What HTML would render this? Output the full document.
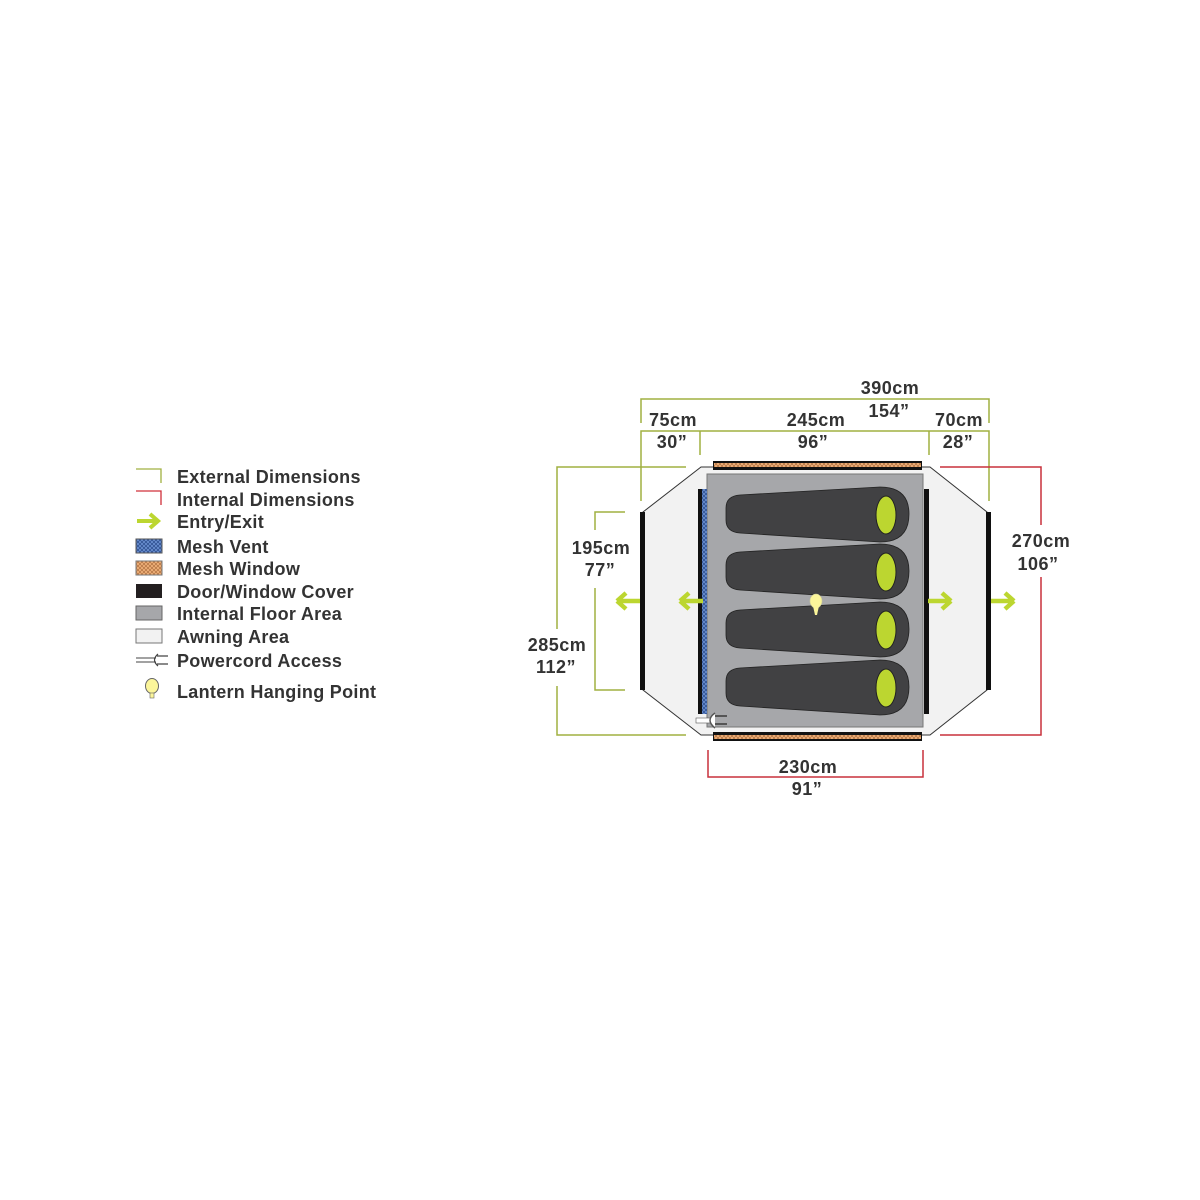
<!DOCTYPE html>
<html><head><meta charset="utf-8"><style>
html,body{margin:0;padding:0;background:#fff}
svg{display:block}
text{font-family:"Liberation Sans",sans-serif;font-weight:bold;fill:#333;font-size:18px;letter-spacing:0.5px}
.lg{font-size:18px;letter-spacing:0.3px}
</style></head><body>
<svg width="1200" height="1200" viewBox="0 0 1200 1200" xmlns="http://www.w3.org/2000/svg">
<defs>
<pattern id="mo" width="4" height="4" patternUnits="userSpaceOnUse"><rect width="4" height="4" fill="#f0b27a"/><path d="M0 0L4 4M4 0L0 4" stroke="#b07040" stroke-width="0.7"/></pattern>
<pattern id="mb" width="4" height="4" patternUnits="userSpaceOnUse"><rect width="4" height="4" fill="#6a8fd0"/><path d="M0 0L4 4M4 0L0 4" stroke="#2a4a8a" stroke-width="0.7"/></pattern>
<g id="arr"><path d="M-1 0 L-10 -8 M-1 0 L-10 8 M-2 0 L-24 0" stroke="#bcd630" stroke-width="4.5" fill="none" stroke-linecap="butt"/></g>
<g id="bag"><path d="M740 495 L880 487 Q909 487 909 514 Q909 542 880 542 L740 533 Q726 532 726 520 L726 508 Q726 496 740 495 Z" fill="#414143" stroke="#222" stroke-width="0.8"/><ellipse cx="886" cy="515" rx="10" ry="19" fill="#bcd630" stroke="#222" stroke-width="1"/></g>
</defs>
<!-- legend -->
<g fill="none" stroke-width="1.3">
<path d="M136 469H161V483" stroke="#a0b040"/>
<path d="M136 491H161V505" stroke="#d0303a"/>
</g>
<path d="M137 521H156 M150 514L158 521L150 528" stroke="#bcd630" stroke-width="4" fill="none"/>
<rect x="136" y="539" width="26" height="14" fill="url(#mb)" stroke="#555"/>
<rect x="136" y="561" width="26" height="14" fill="url(#mo)" stroke="#777"/>
<rect x="136" y="584" width="26" height="14" fill="#231f20"/>
<rect x="136" y="606" width="26" height="14" fill="#a6a7aa" stroke="#666"/>
<rect x="136" y="629" width="26" height="14" fill="#f2f2f2" stroke="#777"/>
<path d="M136 658H156 M136 662H156" stroke="#444" stroke-width="1" fill="none"/>
<path d="M158 654 Q151 660 158 666 M157 656H168 M157 664H168" stroke="#444" stroke-width="1.2" fill="none"/>
<ellipse cx="152" cy="686" rx="6.5" ry="7.5" fill="#fbf59a" stroke="#666"/>
<rect x="150" y="693" width="4" height="5" fill="#fbf59a" stroke="#666" stroke-width="0.6"/>
<text class="lg" x="177" y="483">External Dimensions</text>
<text class="lg" x="177" y="506">Internal Dimensions</text>
<text class="lg" x="177" y="528">Entry/Exit</text>
<text class="lg" x="177" y="553">Mesh Vent</text>
<text class="lg" x="177" y="575">Mesh Window</text>
<text class="lg" x="177" y="598">Door/Window Cover</text>
<text class="lg" x="177" y="620">Internal Floor Area</text>
<text class="lg" x="177" y="643">Awning Area</text>
<text class="lg" x="177" y="667">Powercord Access</text>
<text class="lg" x="177" y="698">Lantern Hanging Point</text>

<!-- tent outline -->
<path d="M701 467 L930 467 L987 512 L987 690 L930 735 L701 735 L643 690 L643 512 Z" fill="#f2f2f2" stroke="#333" stroke-width="1"/>
<rect x="713" y="461" width="209" height="9" fill="#111"/>
<rect x="714" y="463" width="207" height="4" fill="url(#mo)"/>
<rect x="713" y="732" width="209" height="9" fill="#111"/>
<rect x="714" y="735" width="207" height="4" fill="url(#mo)"/>
<rect x="707" y="474" width="216" height="253" fill="#a6a7aa" stroke="#777" stroke-width="1"/>
<rect x="698" y="489" width="4" height="225" fill="#111"/>
<rect x="702" y="489" width="5" height="225" fill="url(#mb)"/>
<rect x="924" y="489" width="5" height="225" fill="#111"/>
<rect x="640" y="512" width="5" height="178" fill="#111"/>
<rect x="986" y="512" width="5" height="178" fill="#111"/>
<use href="#bag"/>
<use href="#bag" transform="translate(0,57)"/>
<use href="#bag" transform="translate(0,115)"/>
<use href="#bag" transform="translate(0,173)"/>
<ellipse cx="816" cy="601" rx="6" ry="7" fill="#fbf59a" stroke="#cc9" stroke-width="0.6"/>
<path d="M813 606 L819 606 L817 615 L815 615 Z" fill="#fbf59a"/>
<!-- powercord -->
<rect x="696" y="718" width="17" height="5" fill="#fff" stroke="#555" stroke-width="0.6"/>
<path d="M715 713 Q705 720 715 728" stroke="#555" stroke-width="1.5" fill="#fff"/>
<path d="M715 716H727 M715 724H727" stroke="#555" stroke-width="2" fill="none"/>
<!-- arrows -->
<use href="#arr" transform="translate(616,601) rotate(180)"/>
<use href="#arr" transform="translate(679,601) rotate(180)"/>
<use href="#arr" transform="translate(952,601)"/>
<use href="#arr" transform="translate(1015,601)"/>
<!-- dimension lines -->
<g fill="none" stroke="#a0b040" stroke-width="1.5">
<path d="M641 423V399H989V423"/>
<path d="M641 501V431H989V501 M700 455V431 M929 455V431"/>
<path d="M686 467H557V629 M557 686V735H686"/>
<path d="M625 512H595V530 M595 588V690H625"/>
</g>
<g fill="none" stroke="#c8303c" stroke-width="1.5">
<path d="M940 467H1041V525 M1041 577V735H940"/>
<path d="M708 750V777H923V750"/>
</g>
<g text-anchor="middle">
<text x="890" y="394">390cm</text><text x="889" y="417">154”</text>
<text x="673" y="426">75cm</text><text x="672" y="448">30”</text>
<text x="816" y="426">245cm</text><text x="813" y="448">96”</text>
<text x="959" y="426">70cm</text><text x="958" y="448">28”</text>
<text x="601" y="554">195cm</text><text x="600" y="576">77”</text>
<text x="557" y="651">285cm</text><text x="556" y="673">112”</text>
<text x="1041" y="547">270cm</text><text x="1038" y="570">106”</text>
<text x="808" y="773">230cm</text><text x="807" y="795">91”</text>
</g>
</svg>
</body></html>
